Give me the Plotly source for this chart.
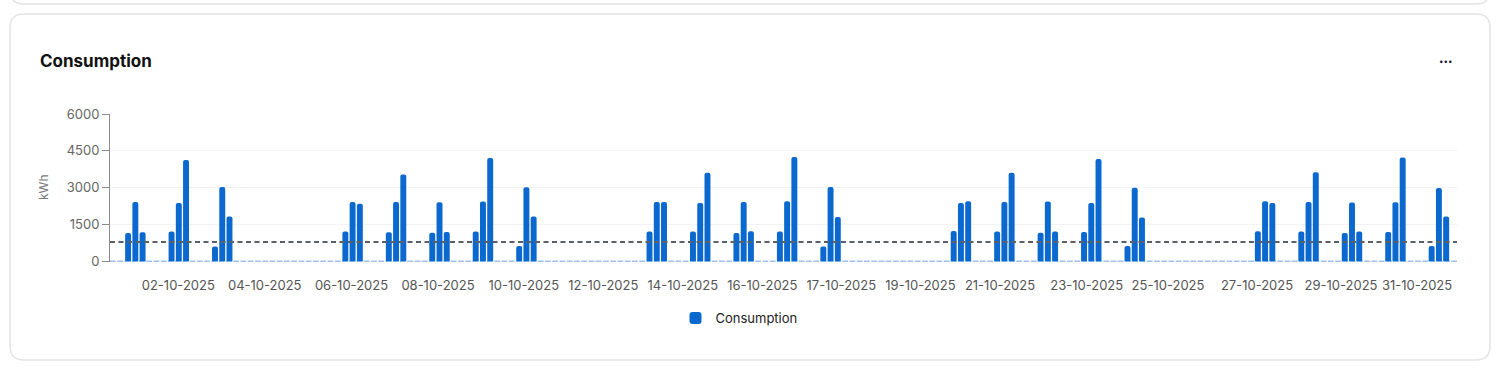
import pandas as pd
import plotly.graph_objects as go

# ---------------- data ----------------
days = pd.date_range("2025-10-01", periods=31, freq="D")
slot_start_hours = [0, 4, 8, 12, 16, 20]  # 4-hour slots per day

# consumption (kWh) per day for the 08-12, 12-16 and 16-20 slots (other slots are zero)
slot_08_12 = [1150, 1210, 600, 0, 0, 1210, 1180, 1160, 1210, 620, 0, 0, 1210, 1210, 1150, 1210,
              600, 0, 0, 1230, 1210, 1160, 1190, 620, 0, 0, 1220, 1210, 1150, 1190, 620]
slot_12_16 = [2410, 2370, 3020, 0, 0, 2410, 2410, 2400, 2430, 3010, 0, 0, 2410, 2370, 2410, 2440,
              3020, 0, 0, 2370, 2410, 2430, 2370, 2990, 0, 0, 2440, 2410, 2390, 2400, 2980]
slot_16_20 = [1180, 4120, 1820, 0, 0, 2340, 3530, 1190, 4210, 1820, 0, 0, 2410, 3600, 1220, 4250,
              1800, 0, 0, 2440, 3600, 1210, 4170, 1780, 0, 0, 2370, 3620, 1210, 4230, 1820]

average_kwh = 780

y_tick_values = [0, 1500, 3000, 4500, 6000]
tick_labels = ["02-10-2025", "04-10-2025", "06-10-2025", "08-10-2025", "10-10-2025", "12-10-2025",
               "14-10-2025", "16-10-2025", "17-10-2025", "19-10-2025", "21-10-2025", "23-10-2025",
               "25-10-2025", "27-10-2025", "29-10-2025", "31-10-2025"]
tick_dates = ["2025-10-02 13:43", "2025-10-04 13:27", "2025-10-06 13:23", "2025-10-08 13:10",
              "2025-10-10 12:34", "2025-10-12 08:28", "2025-10-14 04:23", "2025-10-16 00:17",
              "2025-10-17 19:56", "2025-10-19 15:40", "2025-10-21 11:35", "2025-10-23 11:28",
              "2025-10-25 08:23", "2025-10-27 09:32", "2025-10-29 07:56", "2025-10-31 01:55"]

# ---------------- build slot series ----------------
xs, ys = [], []
for i, d in enumerate(days):
    per_slot = {8: slot_08_12[i], 12: slot_12_16[i], 16: slot_16_20[i]}
    for h in slot_start_hours:
        xs.append(d + pd.Timedelta(hours=h + 2))
        ys.append(per_slot.get(h, 0))

BLUE = "#0a68cf"
FONT = "Inter, Roboto, sans-serif"

# ---------------- layout helpers (pixel -> paper) ----------------
W, H = 1506, 370
ML, MR, MT, MB = 110, 49, 114, 108
PW, PH = W - ML - MR, H - MT - MB


def px(x):
    return (x - ML) / PW


def py(y):
    return (H - MB - y) / PH


def rounded_rect(x0, y0, x1, y1, r):
    return (f"M {px(x0 + r)} {py(y0)} L {px(x1 - r)} {py(y0)} "
            f"Q {px(x1)} {py(y0)} {px(x1)} {py(y0 + r)} L {px(x1)} {py(y1 - r)} "
            f"Q {px(x1)} {py(y1)} {px(x1 - r)} {py(y1)} L {px(x0 + r)} {py(y1)} "
            f"Q {px(x0)} {py(y1)} {px(x0)} {py(y1 - r)} L {px(x0)} {py(y0 + r)} "
            f"Q {px(x0)} {py(y0)} {px(x0 + r)} {py(y0)} Z")


fig = go.Figure()
fig.add_trace(go.Bar(x=xs, y=ys, name="Consumption", marker=dict(color=BLUE, line=dict(width=0)),
                     showlegend=True))

shapes = [
    # top (previous) card
    dict(type="path", xref="paper", yref="paper", path=rounded_rect(10, -40, 1490, 4, 14),
         line=dict(color="#e4e4e4", width=1.5), fillcolor="rgba(0,0,0,0)", layer="below"),
    # main card
    dict(type="path", xref="paper", yref="paper", path=rounded_rect(10, 14, 1490, 360, 14),
         line=dict(color="#e4e4e4", width=1.5), fillcolor="rgba(0,0,0,0)", layer="below"),
    # zero baseline (dashed light blue)
    dict(type="line", xref="paper", yref="y", x0=0, x1=1, y0=0, y1=0,
         line=dict(color="#9ec2ec", width=1.5, dash="5.8px,1.45px"), layer="below"),
    # average line
    dict(type="line", xref="paper", yref="y", x0=0, x1=1, y0=average_kwh, y1=average_kwh,
         line=dict(color="#5b5f67", width=2, dash="5px,3.5px"), layer="above"),
]

annotations = [
    dict(text="<b>Consumption</b>", xref="paper", yref="paper", x=px(38), y=py(61),
         xanchor="left", yanchor="middle", showarrow=False,
         font=dict(family=FONT, size=17, color="#111111")),
    dict(text="•••", xref="paper", yref="paper", x=px(1446), y=py(61),
         xanchor="center", yanchor="middle", showarrow=False,
         font=dict(family=FONT, size=8, color="#1a1a2e")),
    dict(text="kWh", xref="paper", yref="paper", x=px(43), y=py(187), textangle=-90,
         xanchor="center", yanchor="middle", showarrow=False,
         font=dict(family=FONT, size=12, color="#777777")),
]

fig.update_layout(
    width=W, height=H,
    margin=dict(l=ML, r=MR, t=MT, b=MB, pad=0),
    paper_bgcolor="white", plot_bgcolor="white",
    font=dict(family=FONT, size=13, color="#555555"),
    bargap=0.18,
    barcornerradius=3,
    shapes=shapes,
    annotations=annotations,
    showlegend=True,
    legend=dict(orientation="h", x=px(739), xanchor="center", y=py(318), yanchor="middle",
                font=dict(family=FONT, size=13, color="#222222"), itemwidth=30),
    xaxis=dict(type="date", range=[days[0], days[-1] + pd.Timedelta(days=1)],
               showgrid=False, showline=False, zeroline=False,
               tickmode="array", tickvals=tick_dates, ticktext=tick_labels,
               ticks="outside", ticklen=11, tickcolor="rgba(0,0,0,0)",
               tickfont=dict(family=FONT, size=13, color="#555555")),
    yaxis=dict(range=[-35, 6000], tickmode="array", tickvals=y_tick_values,
               showgrid=True, gridcolor="#f3f3f3", gridwidth=1, zeroline=False,
               showline=True, linecolor="#8c8c8c", linewidth=1,
               ticks="outside", ticklen=7, tickcolor="#8c8c8c",
               tickfont=dict(family=FONT, size=13, color="#666666")),
)

fig.write_html("out.html", config={"displayModeBar": False},
               post_script="document.body.style.margin='0';document.body.style.overflow='hidden';")
